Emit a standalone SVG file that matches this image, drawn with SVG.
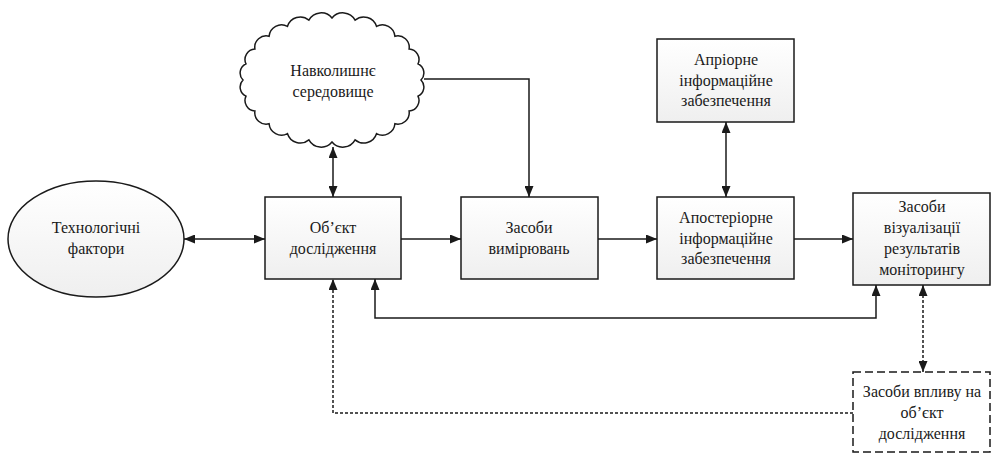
<svg xmlns="http://www.w3.org/2000/svg" width="992" height="453" viewBox="0 0 992 453" font-family="Liberation Serif, DejaVu Serif, serif">
<style>
.node{fill:url(#g);stroke:#1a1a1a;stroke-width:1.5}
.cl{fill:#fff;stroke:#1a1a1a;stroke-width:1.5}
.dash{fill:#fff;stroke:#1a1a1a;stroke-width:1.5;stroke-dasharray:8,4}
.t{font-size:16px;fill:#1a1a1a;text-anchor:middle}
.c{fill:none;stroke:#1a1a1a;stroke-width:1.5}
.dot{stroke-dasharray:3,2}
</style>
<defs>
<linearGradient id="g" x1="0" y1="0" x2="0" y2="1">
<stop offset="0" stop-color="#ffffff"/>
<stop offset="1" stop-color="#efefef"/>
</linearGradient>
<marker id="a" markerUnits="userSpaceOnUse" markerWidth="11" markerHeight="9" refX="11" refY="4.5" orient="auto-start-reverse">
<path d="M0,0 L11,4.5 L0,9 z" fill="#1a1a1a"/>
</marker>
</defs>
<rect width="992" height="453" fill="#fff"/>
<g id="cloud">
<path class="cl" d="M421,80 A10,10 0 0 1 418,96.1 A10.5,10.5 0 0 1 409.1,111 A11.5,11.5 0 0 1 394.9,123.8 A12.5,12.5 0 0 1 376.5,133.7 A13.4,13.4 0 0 1 355.1,139.9 A14,14 0 0 1 332,142 A14,14 0 0 1 308.9,139.9 A13.4,13.4 0 0 1 287.5,133.7 A12.5,12.5 0 0 1 269.1,123.8 A11.5,11.5 0 0 1 254.9,111 A10.5,10.5 0 0 1 246,96.1 A10,10 0 0 1 243,80 A10,10 0 0 1 246,63.9 A10.5,10.5 0 0 1 254.9,49 A11.5,11.5 0 0 1 269.1,36.2 A12.5,12.5 0 0 1 287.5,26.3 A13.4,13.4 0 0 1 308.9,20.1 A14,14 0 0 1 332,18 A14,14 0 0 1 355.1,20.1 A13.4,13.4 0 0 1 376.5,26.3 A12.5,12.5 0 0 1 394.9,36.2 A11.5,11.5 0 0 1 409.1,49 A10.5,10.5 0 0 1 418,63.9 A10,10 0 0 1 421,80 Z"/>
<text class="t" x="333" y="76" font-family="Liberation Serif">Навколишнє</text>
<text class="t" x="333" y="97" font-family="Liberation Serif">середовище</text>
</g>
<g id="tech">
<ellipse class="node" cx="96" cy="239" rx="88" ry="58"/>
<text class="t" x="96" y="233" font-family="Liberation Serif">Технологічні</text>
<text class="t" x="96" y="254" font-family="Liberation Serif">фактори</text>
</g>
<g id="object">
<rect class="node" x="265" y="197" width="136" height="82"/>
<text class="t" x="333" y="233" font-family="Liberation Serif">Об’єкт</text>
<text class="t" x="333" y="254" font-family="Liberation Serif">дослідження</text>
</g>
<g id="measure">
<rect class="node" x="461" y="197" width="137" height="82"/>
<text class="t" x="529" y="233" font-family="Liberation Serif">Засоби</text>
<text class="t" x="529" y="254" font-family="Liberation Serif">вимірювань</text>
</g>
<g id="apriori">
<rect class="node" x="657" y="39" width="137" height="83"/>
<text class="t" x="726" y="65" font-family="Liberation Serif">Апріорне</text>
<text class="t" x="726" y="86" font-family="Liberation Serif">інформаційне</text>
<text class="t" x="726" y="106" font-family="Liberation Serif">забезпечення</text>
</g>
<g id="aposteriori">
<rect class="node" x="657" y="197" width="137" height="82"/>
<text class="t" x="726" y="223" font-family="Liberation Serif">Апостеріорне</text>
<text class="t" x="726" y="244" font-family="Liberation Serif">інформаційне</text>
<text class="t" x="726" y="264" font-family="Liberation Serif">забезпечення</text>
</g>
<g id="visual">
<rect class="node" x="853" y="193" width="137" height="92"/>
<text class="t" x="922" y="212" font-family="Liberation Serif">Засоби</text>
<text class="t" x="922" y="233" font-family="Liberation Serif">візуалізації</text>
<text class="t" x="922" y="254" font-family="Liberation Serif">результатів</text>
<text class="t" x="922" y="275" font-family="Liberation Serif">моніторингу</text>
</g>
<g id="influence">
<rect class="dash" x="853" y="372" width="137" height="80"/>
<text class="t" x="922" y="397" font-family="Liberation Serif">Засоби впливу на</text>
<text class="t" x="922" y="418" font-family="Liberation Serif">об’єкт</text>
<text class="t" x="922" y="439" font-family="Liberation Serif">дослідження</text>
</g>
<g id="connectors">
<line class="c" x1="184" y1="239" x2="265" y2="239" marker-start="url(#a)" marker-end="url(#a)"/>
<line class="c" x1="333" y1="147" x2="333" y2="197" marker-start="url(#a)" marker-end="url(#a)"/>
<polyline class="c" points="424,79 529,79 529,197" marker-end="url(#a)"/>
<line class="c" x1="401" y1="239" x2="461" y2="239" marker-end="url(#a)"/>
<line class="c" x1="598" y1="239" x2="657" y2="239" marker-end="url(#a)"/>
<line class="c" x1="726" y1="122" x2="726" y2="197" marker-start="url(#a)" marker-end="url(#a)"/>
<line class="c" x1="794" y1="239" x2="853" y2="239" marker-end="url(#a)"/>
<polyline class="c" points="375,279 375,318 876,318 876,285" marker-start="url(#a)" marker-end="url(#a)"/>
<line class="c dot" x1="923" y1="285" x2="923" y2="372" marker-start="url(#a)" marker-end="url(#a)"/>
<polyline class="c dot" points="853,413 333,413 333,279" marker-end="url(#a)"/>
</g>
</svg>
